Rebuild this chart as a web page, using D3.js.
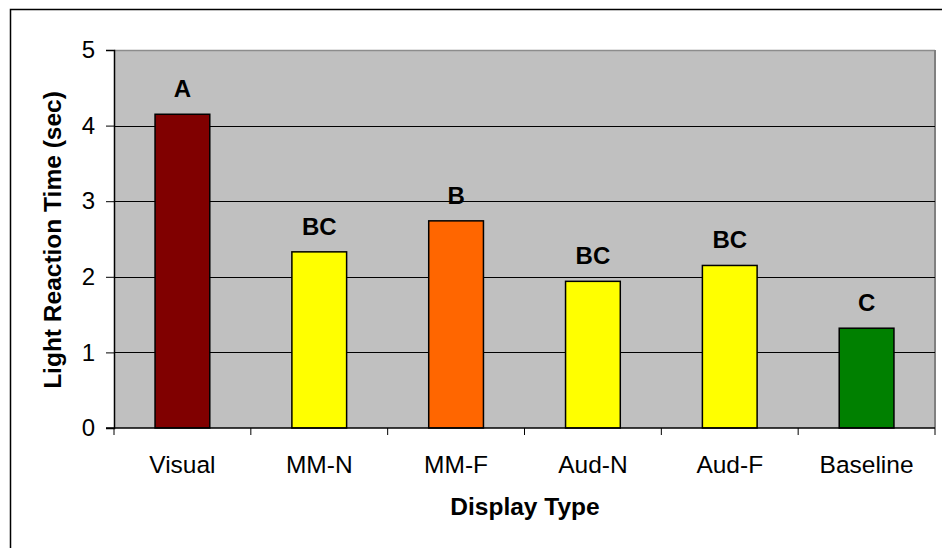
<!DOCTYPE html>
<html>
<head>
<meta charset="utf-8">
<script src="https://cdn.jsdelivr.net/npm/d3@7/dist/d3.min.js"></script>
<style>
  html, body { margin: 0; padding: 0; background: #fff; }
  svg { display: block; font-family: Arial, "Liberation Sans", sans-serif; }
</style>
</head>
<body>
<svg id="chart" width="942" height="548"></svg>
<script>
// Mean light reaction time by display type, with significance groupings
const categories = ["Visual", "MM-N", "MM-F", "Aud-N", "Aud-F", "Baseline"];
const reactionTimes = [4.15, 2.33, 2.74, 1.94, 2.15, 1.32];
const groupLetters = ["A", "BC", "B", "BC", "BC", "C"];
const barColors = ["#800000", "#FFFF00", "#FF6600", "#FFFF00", "#FFFF00", "#008000"];
const yTicks = [0, 1, 2, 3, 4, 5];

const svg = d3.select("#chart");
const plot = { left: 114, top: 50, right: 935, bottom: 428 };

// outer chart frame (runs off the right and bottom edges)
svg.append("rect")
  .attr("x", 10.5).attr("y", 9.5)
  .attr("width", 1000).attr("height", 600)
  .attr("fill", "none").attr("stroke", "#000").attr("stroke-width", 1.5);

const x = d3.scaleBand().domain(categories).range([plot.left, plot.right]).padding(0);
const y = d3.scaleLinear().domain([0, 5]).range([plot.bottom, plot.top]);

// plot area
svg.append("rect")
  .attr("x", plot.left).attr("y", plot.top)
  .attr("width", plot.right - plot.left).attr("height", plot.bottom - plot.top)
  .attr("fill", "#C0C0C0");
svg.append("line")
  .attr("x1", plot.left).attr("x2", plot.right)
  .attr("y1", plot.top + 0.5).attr("y2", plot.top + 0.5)
  .attr("stroke", "#8c8c8c").attr("stroke-width", 1.5);
svg.append("line")
  .attr("x1", plot.right).attr("x2", plot.right)
  .attr("y1", plot.top).attr("y2", plot.bottom)
  .attr("stroke", "#808080").attr("stroke-width", 2);

// horizontal gridlines
svg.append("g").selectAll("line")
  .data(yTicks.filter(t => t > 0 && t < 5))
  .join("line")
  .attr("x1", plot.left).attr("x2", plot.right)
  .attr("y1", d => Math.round(y(d)) + 0.5).attr("y2", d => Math.round(y(d)) + 0.5)
  .attr("stroke", "#000").attr("stroke-width", 1);

// bars
const barW = x.bandwidth() * 0.4;
svg.append("g").selectAll("rect")
  .data(categories)
  .join("rect")
  .attr("x", d => x(d) + (x.bandwidth() - barW) / 2)
  .attr("y", (d, i) => y(reactionTimes[i]))
  .attr("width", barW)
  .attr("height", (d, i) => y(0) - y(reactionTimes[i]))
  .attr("fill", (d, i) => barColors[i])
  .attr("stroke", "#000").attr("stroke-width", 1.5);

// grouping letters above bars
svg.append("g").selectAll("text")
  .data(categories)
  .join("text")
  .attr("x", d => x(d) + x.bandwidth() / 2)
  .attr("y", (d, i) => y(reactionTimes[i]) - 17)
  .attr("text-anchor", "middle")
  .attr("font-size", 24).attr("font-weight", "bold")
  .text((d, i) => groupLetters[i]);

// y axis
const yAxis = d3.axisLeft(y).tickValues(yTicks).tickSize(8).tickPadding(11).tickFormat(d3.format("d"));
const gy = svg.append("g").attr("transform", `translate(${plot.left},0)`).call(yAxis);
gy.select(".domain").attr("stroke", "#000").attr("stroke-width", 1.5);
gy.selectAll(".tick line").attr("stroke", "#000");
gy.selectAll(".tick text").attr("font-size", 24).attr("fill", "#000")
  .attr("font-family", "Arial, 'Liberation Sans', sans-serif");

// x axis: ticks fall between categories
const gx = svg.append("g").attr("transform", `translate(0,${plot.bottom})`);
gx.append("line")
  .attr("x1", plot.left - 8).attr("x2", plot.right)
  .attr("stroke", "#000").attr("stroke-width", 1.5);
const boundaries = categories.map(c => x(c)).concat([x.range()[1]]);
gx.selectAll("line.sep")
  .data(boundaries)
  .join("line").attr("class", "sep")
  .attr("x1", d => d).attr("x2", d => d)
  .attr("y1", 0).attr("y2", 7)
  .attr("stroke", "#000");
gx.selectAll("text")
  .data(categories)
  .join("text")
  .attr("x", d => x(d) + x.bandwidth() / 2)
  .attr("y", 45)
  .attr("text-anchor", "middle")
  .attr("font-size", 24.5)
  .text(d => d);

// axis titles
svg.append("text")
  .attr("x", 525).attr("y", 515)
  .attr("text-anchor", "middle")
  .attr("font-size", 24.5).attr("font-weight", "bold")
  .text("Display Type");
svg.append("text")
  .attr("transform", "translate(61,240) rotate(-90)")
  .attr("text-anchor", "middle")
  .attr("font-size", 24.5).attr("font-weight", "bold")
  .text("Light Reaction Time (sec)");
</script>
</body>
</html>
